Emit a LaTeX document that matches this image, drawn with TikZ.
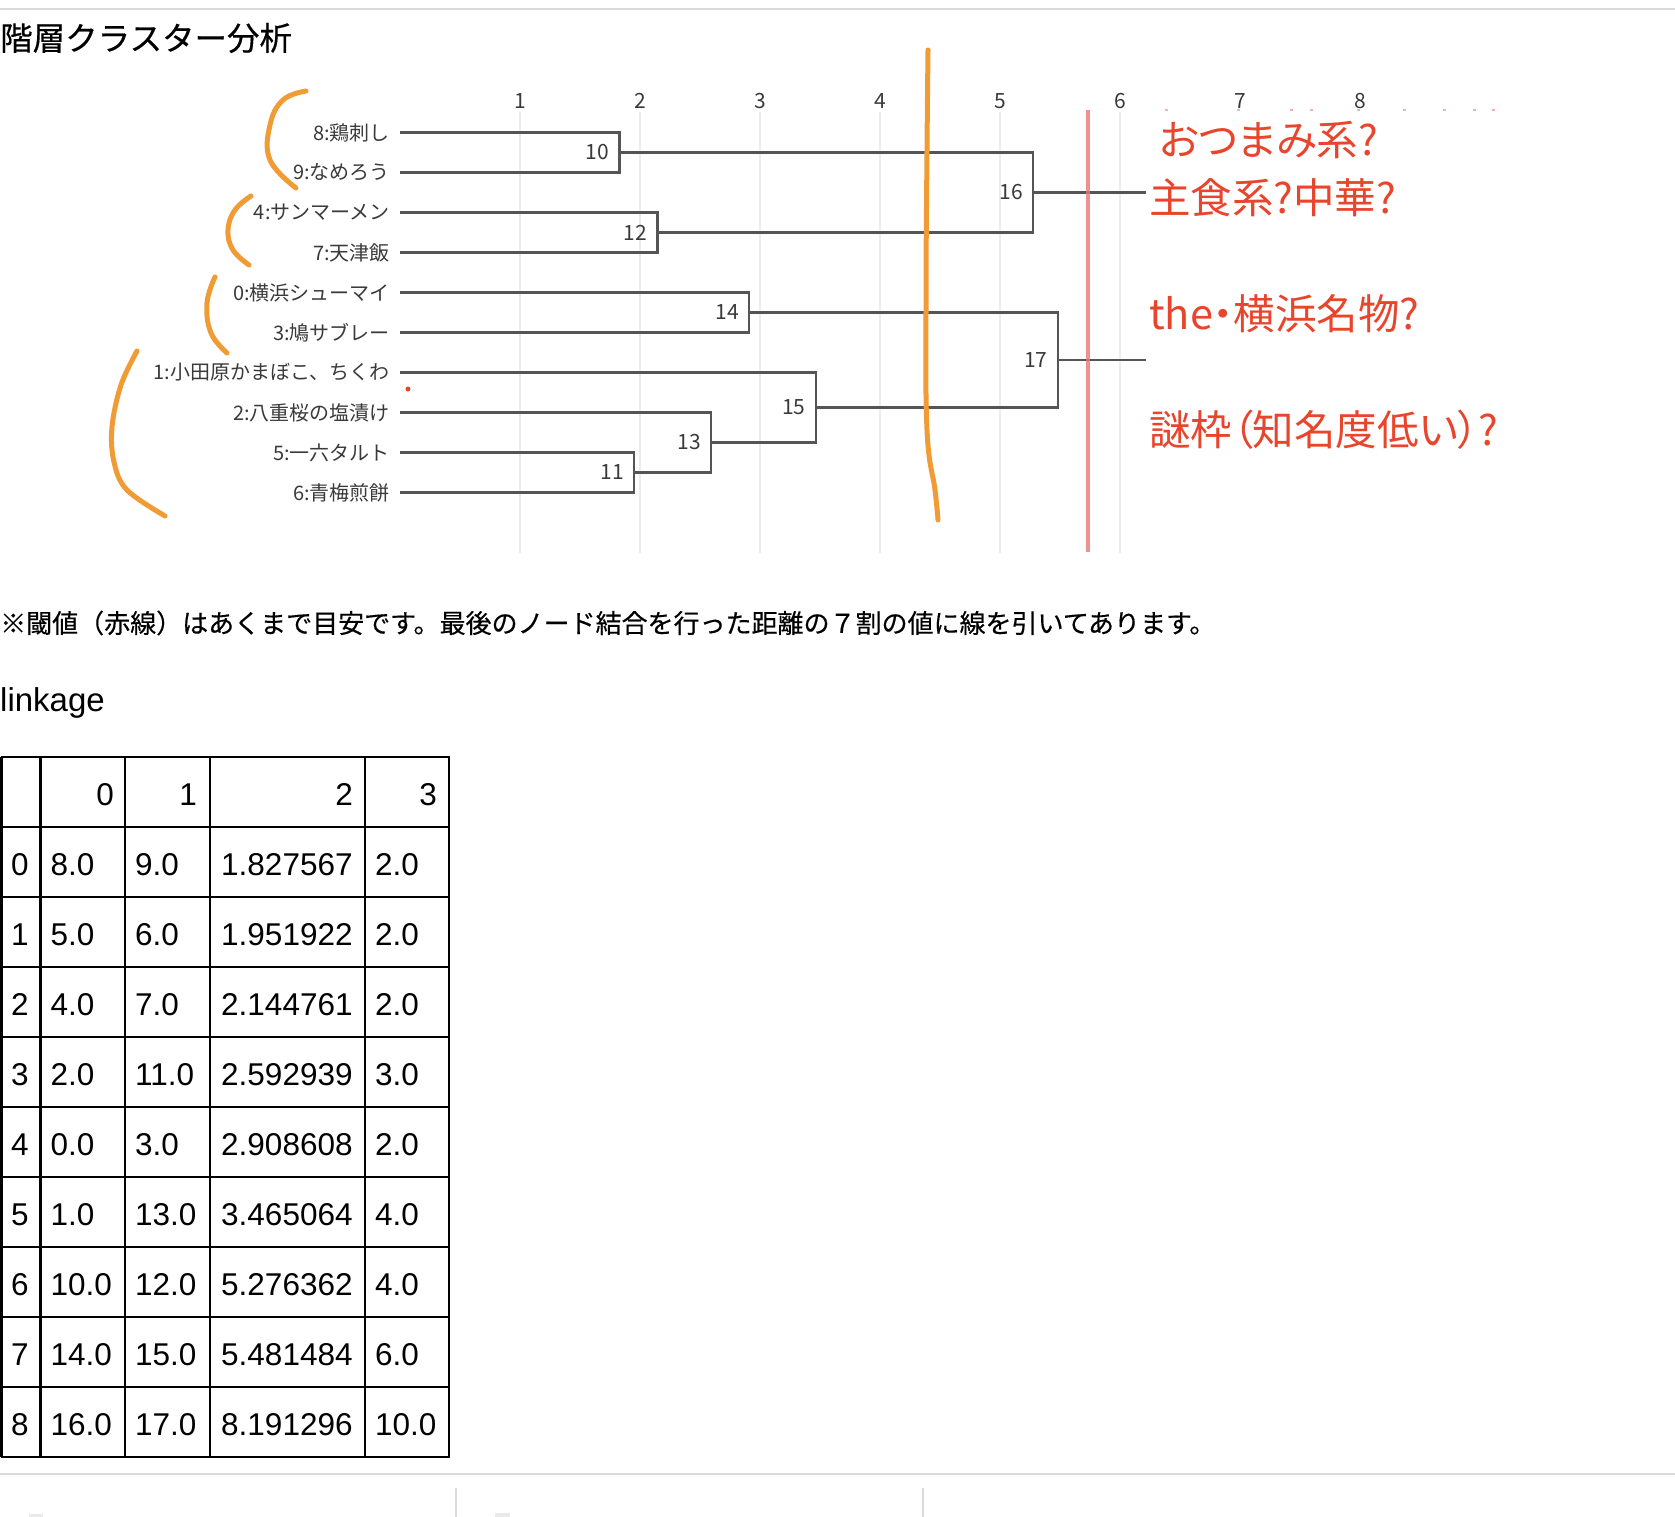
\documentclass[tikz,border=0pt]{standalone}
\usepackage{fontspec}
\newfontfamily\jp{Noto Sans CJK JP}
\newfontfamily\jpb[FakeBold=0.4]{Noto Sans CJK JP}
\newfontfamily\jpp[RawFeature=+palt]{Noto Sans CJK JP}
\newfontfamily\ar{Liberation Sans}
\definecolor{dendro}{HTML}{555555}
\definecolor{labgray}{HTML}{3A3A3A}
\definecolor{gridc}{HTML}{EDEDED}
\definecolor{orng}{HTML}{F19B35}
\definecolor{redtxt}{HTML}{E8452C}
\definecolor{thr}{HTML}{F09090}
\definecolor{sepgray}{HTML}{DADADA}
\begin{document}
\begin{tikzpicture}[x=1pt,y=-1pt,
  dline/.style={draw=dendro, line width=2.5pt},
  leaflab/.style={anchor=east, inner sep=0pt, text=labgray, font=\jp\fontsize{20}{20}\selectfont},
  mlab/.style={anchor=east, inner sep=0pt, text=labgray, font=\jp\fontsize{21}{21}\selectfont},
  ticklab/.style={anchor=center, inner sep=0pt, text=labgray, font=\jp\fontsize{21}{21}\selectfont},
  gridline/.style={draw=gridc, line width=1.5pt},
  ostroke/.style={draw=orng, line width=5pt, line cap=round, line join=round},
  note/.style={anchor=west, inner sep=0pt, text=redtxt, font=\jpp\fontsize{41.5}{41.5}\selectfont},
  tline/.style={draw=black, line width=2.5pt},
  cellw/.style={anchor=base west, inner sep=0pt, font=\ar\fontsize{31.5}{31.5}\selectfont},
  celle/.style={anchor=base east, inner sep=0pt, font=\ar\fontsize{31.5}{31.5}\selectfont},
  sep/.style={draw=sepgray, line width=2.5pt}
]
\useasboundingbox (0,0) rectangle (1675,1517);
\fill[white] (0,0) rectangle (1675,1517);

% top separator
\draw[sep, line width=2pt] (0,9) -- (1675,9);

% title
\node[anchor=west, inner sep=0pt, font=\jpb\fontsize{32.5}{32.5}\selectfont] (title) at (0,38) {階層クラスター分析};

% gridlines and ticks
\foreach \d in {1,...,6}{
  \draw[gridline] (400+120*\d,112) -- (400+120*\d,553);
}
\foreach \d in {1,...,8}{
  \node[ticklab] (tk\d) at (400+120*\d,101) {\d};
}

% faint remnants near top right
\foreach \xx/\ww in {1165/3,1237/3,1290/3,1310/3,1357/3,1403/3,1443/3,1473/3,1492/3}{
  \draw[draw=thr, line width=1.2pt, opacity=0.7] (\xx,110) -- (\xx+\ww,110);
}

% threshold line
\draw[draw=thr, line width=3.5pt] (1088,110) -- (1088,552);

% leaves
\foreach \n/\yy/\t in {8/132.5/{8:鶏刺し},9/172.5/{9:なめろう},4/212.5/{4:サンマーメン},7/252.5/{7:天津飯},0/292.5/{0:横浜シューマイ},3/332.5/{3:鳩サブレー},1/372.5/{1:小田原かまぼこ、ちくわ},2/412.5/{2:八重桜の塩漬け},5/452.5/{5:一六タルト},6/492.5/{6:青梅煎餅}}{
  \coordinate (p\n) at (400,\yy);
  \node[leaflab] (t\n) at (390,\yy) {\t};
}

% merge points
\coordinate (m10) at (619.3,152.5);
\coordinate (m11) at (634.2,472.5);
\coordinate (m12) at (657.4,232.5);
\coordinate (m13) at (711.2,442.5);
\coordinate (m14) at (749.0,312.5);
\coordinate (m15) at (815.8,407.5);
\coordinate (m16) at (1033.2,192.5);
\coordinate (m17) at (1057.8,360);
\coordinate (e16) at (1146,192.5);
\coordinate (e17) at (1146,360);

\draw[dline] (p8) -| (m10) |- (p9);
\draw[dline] (p5) -| (m11) |- (p6);
\draw[dline] (p4) -| (m12) |- (p7);
\draw[dline] (p2) -| (m13) |- (m11);
\draw[dline] (p0) -| (m14) |- (p3);
\draw[dline] (p1) -| (m15) |- (m13);
\draw[dline] (m10) -| (m16) |- (m12);
\draw[dline] (m14) -| (m17) |- (m15);
\draw[dline] (m16) -- (e16);
\draw[dline] (m17) -- (e17);

\foreach \m in {10,11,12,13,14,15,16,17}{
  \node[mlab] (ml\m) at ([xshift=-10pt]m\m) {\m};
}

% threshold over lines
\draw[draw=thr, line width=3.5pt, opacity=0.6] (1088,110) -- (1088,552);

% orange hand strokes
\draw[ostroke] plot[smooth, tension=0.7] coordinates {(928,50) (927,150) (926,300) (927,430) (935,490) (938,520)};
\draw[ostroke] plot[smooth, tension=0.7] coordinates {(306,91) (283,100) (270,125) (270,160) (296,188)};
\draw[ostroke] plot[smooth, tension=0.7] coordinates {(251,196) (235,210) (228,230) (233,250) (249,265)};
\draw[ostroke] plot[smooth, tension=0.7] coordinates {(215,277) (207,303) (211,333) (227,353)};
\draw[ostroke] plot[smooth, tension=0.6] coordinates {(137,351) (121,385) (112,427) (114,462) (127,490) (165,516)};

% red dot
\fill[redtxt] (408,389) circle (2.5pt);

% annotations
\node[note] (n1) at (1159,140) {おつまみ系?};
\node[note] (n2) at (1149,198) {主食系?中華?};
\node[note] (n3) at (1149,314) {the・横浜名物?};
\node[note] (n4) at (1149,430) {謎枠（知名度低い）?};

% footnote
\node[anchor=west, inner sep=0pt, font=\jpb\fontsize{26}{26}\selectfont] (fn) at (0,623) {※閾値（赤線）はあくまで目安です。最後のノード結合を行った距離の７割の値に線を引いてあります。};

% linkage heading
\node[anchor=base west, inner sep=0pt, font=\ar\fontsize{33}{33}\selectfont] (lk) at (0,711) {linkage};

% table grid
\foreach \yy in {757,827,897,967,1037,1107,1177,1247,1317,1387,1457}{
  \draw[tline] (1,\yy) -- (450,\yy);
}
\foreach \xx in {1.25,40.5,125,210,365,448.75}{
  \draw[tline] (\xx,757) -- (\xx,1457);
}
% header
\node[celle] (h0) at (114,805) {0};
\node[celle] (h1) at (197,805) {1};
\node[celle] (h2) at (353,805) {2};
\node[celle] (h3) at (437,805) {3};
% rows
\foreach \r/\a/\b/\c/\e in {0/8.0/9.0/1.827567/2.0,1/5.0/6.0/1.951922/2.0,2/4.0/7.0/2.144761/2.0,3/2.0/11.0/2.592939/3.0,4/0.0/3.0/2.908608/2.0,5/1.0/13.0/3.465064/4.0,6/10.0/12.0/5.276362/4.0,7/14.0/15.0/5.481484/6.0,8/16.0/17.0/8.191296/10.0}{
  \pgfmathsetmacro{\bl}{875+70*\r}
  \node[cellw] (r\r i) at (11,\bl) {\r};
  \node[cellw] (r\r a) at (50.5,\bl) {\a};
  \node[cellw] (r\r b) at (135,\bl) {\b};
  \node[cellw] (r\r c) at (221,\bl) {\c};
  \node[cellw] (r\r d) at (375,\bl) {\e};
}

% bottom separator and toolbar remnants
\draw[sep] (0,1474) -- (1675,1474);
\draw[draw=sepgray, line width=2pt] (456,1488) -- (456,1517);
\draw[draw=sepgray, line width=2pt] (923,1488) -- (923,1517);
\fill[sepgray!60] (29,1514) rectangle (43,1517);
\fill[sepgray!60] (495,1513) rectangle (510,1517);
\end{tikzpicture}
\end{document}
